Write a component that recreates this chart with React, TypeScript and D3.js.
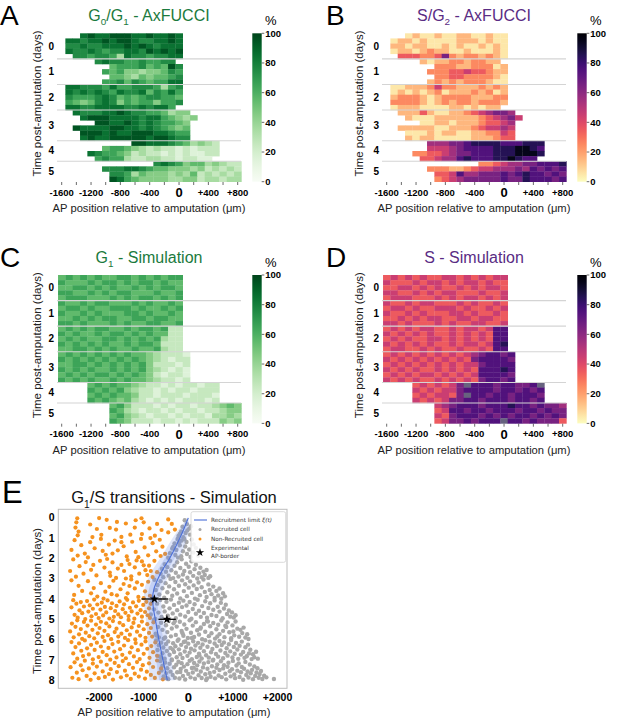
import React from 'react';
import * as d3 from 'd3';

// ---------- heatmaps (A-D) ----------
// one string per individual row: "startBin:values", bins of 100 µm (startBin in units of 100 µm)
// digit d -> d*10+5 %, 'g' -> undefined cell
const dayLabels = ['0', '1', '2', '3', '4', '5'];
const rowsPerDay = [5, 5, 5, 6, 4, 4];
const heatTickValues = [-1600, -1200, -800, -400, 0, 400, 800];
const heatTickLabels = ['-1600', '-1200', '-800', '-400', '0', '+400', '+800'];
const heatMinorTicks = [-1600, -1400, -1200, -1000, -800, -600, -400, -200, 0, 200, 400, 600, 800];
const cbarTicks = [0, 20, 40, 60, 80, 100];

const g1Fucci = [
  '-13:89889998898898', '-15:8878898998778898', '-15:7787788898987888', '-15:8778767788798989', '-14:776776387767788',
  '-11:78776676677', '-9:5666756597', '-10:65644344576', '-9:5543545567', '-10:66757656688',
  '-15:8877768667776367', '-15:8787876877857686', '-15:7666787565677665', '-15:6545787465664667', '-15:887788887787886',
  '-14:8777889877665344', '-13:8999888878865434', '-11:9988987876654', '-14:9888899887876545', '-13:999898899988766', '-13:898899999899877',
  '-6:998887653432', '-10:5665432322121222', '-12:876654232212121122', '-11:6766322332212211',
  '-3:787645534322', '-10:7778876554443423232', '-9:776354443435232323', '-9:986544443344233233',
];

const sg2Fucci = [
  '-13:01001001100100', '-15:0110100001110100', '-15:1101100101001010', '-15:0110121100100010', '-14:333223621221210',
  '-11:10112212211', '-9:2221122201', '-10:22233433211', '-9:2233222210', '-10:12121222100',
  '-15:0011124221112121', '-15:0101012011121201', '-15:1222101222211122', '-15:2222101212212221', '-15:011100001101011',
  '-14:1113100112345665', '-13:1000111111234564', '-11:0011011123345', '-14:1111100111234454', '-13:000101100112243', '-13:101100000111233',
  '-10:5556678888777888', '-10:4445677778889987', '-12:223345667778889998', '-11:3345578777889877',
  '-3:223455667778', '-10:2221123445556576767', '-9:334755666767877676', '-9:234566666766877767',
];

const g1Sim = [
  '-16:56565655665656566', '-16:65556566565665655', '-16:55665656556565665', '-16:66556565665556556', '-16:56665556565665656',
  '-16:65565665556565565', '-16:56656556665655656', '-16:65565655566565565', '-16:55656566556656655', '-16:66565556565566556',
  '-16:56565665565665622', '-16:65655656656565522', '-16:56565566565656322', '-16:65656565565665222', '-16:55665656556556322',
  '-16:565656565655432221', '-16:656565656565432122', '-16:556656565656422212', '-16:656565565656432121', '-16:565656656565421221', '-16:656565565655432212',
  '-12:565655432212122122', '-12:656564322121221222', '-12:565655422122212221', '-12:656545321212122212',
  '-9:564222121221223454', '-9:653212212122122344', '-9:564321221212213343', '-9:654222122121222434',
];

const sSim = [
  '-16:34343433443434344', '-16:43334344343443433', '-16:33443434334343443', '-16:44334343443334334', '-16:34443334343443434',
  '-16:43343443334343343', '-16:34434334443433434', '-16:43343433344343343', '-16:33434344334434433', '-16:44343334343344334',
  '-16:34343443343443477', '-16:43434343343434377', '-16:34343344343434377', '-16:43434343343443478', '-16:34433434334334377',
  '-16:343434343434567767', '-16:434343434343677776', '-16:343434343434467777', '-16:434343343434377787', '-16:343434434343477776', '-16:434343343434367767',
  '-12:3434346g777677667g', '-12:434344677776776767', '-12:3434436g7767767776', '-12:434346677677767767',
  '-9:456777677787767665', '-9:347767767776776766', '-9:436777676767767676', '-9:346676777g77676663',
];

// ---------- panel E ----------
const dayTicksE = [0, 1, 2, 3, 4, 5, 6, 7, 8];
const xTicksE = [-2000, -1000, 0, 1000, 2000];
const xTickLabelsE = ['-2000', '-1000', '0', '+1000', '+2000'];

// "x,y": x in units of 10 µm, y in hundredths of a day
const nonRecruited = `
-249,2 -251,22 -253,48 -246,68 -248,86 -200,1 -183,10 -162,58 -176,50 -140,28 -120,48 -105,2 -100,22 -87,52 -70,30 -45,8 -37,30 -30,58 -45,72 -220,33 -205,55 -195,84 -150,94 -130,83 -104,80 -75,88 -160,20 -118,12 -60,60 -215,95
-255,110 -240,135 -262,158 -232,176 -220,120 -210,150 -196,104 -185,182 -178,132 -165,112 -158,160 -145,140 -138,190 -126,118 -118,168 -106,104 -98,146 -90,185 -80,125 -72,165 -64,108 -58,142 -52,178 -225,195 -192,163 -150,120 -112,194 -85,100 -62,188 -248,186 -170,176
-258,205 -244,238 -265,262 -252,290 -230,218 -218,256 -206,284 -198,212 -188,245 -176,270 -170,220 -162,296 -150,232 -144,262 -136,208 -128,288 -120,244 -110,275 -104,215 -96,258 -88,236 -80,292 -76,212 -70,268 -213,232 -182,203 -158,250 -132,228 -116,210 -92,282 -235,275 -175,286 -140,299 -100,234 -84,262
-262,308 -256,380 -246,335 -238,360 -225,312 -218,372 -212,346 -204,388 -196,322 -190,398 -186,364 -177,340 -172,376 -168,310 -160,382 -152,352 -145,326 -140,395 -136,372 -132,336 -128,304 -120,348 -115,318 -112,390 -104,330 -100,396 -97,362 -90,315 -86,384
-262,441 -258,406 -255,478 -251,423 -248,492 -244,456 -241,415 -238,470 -234,437 -231,499 -227,410 -224,462 -221,431 -217,485 -214,448 -211,403 -207,474 -204,427 -201,494 -197,452 -194,418 -191,481 -187,439 -184,466 -181,407 -177,496 -174,445 -171,421 -167,488 -164,459 -161,434 -157,476 -154,412 -151,490 -147,450 -144,426 -141,468 -137,404 -134,484 -131,443 -127,461 -124,417 -121,497 -117,436 -114,472 -111,409 -107,455 -104,487 -101,429 -97,464 -94,414 -91,480 -88,446 -86,493 -84,424
-265,560 -261,521 -257,589 -253,537 -249,505 -245,574 -241,548 -238,596 -234,513 -230,566 -226,531 -222,583 -218,507 -215,552 -211,594 -207,526 -203,569 -199,543 -196,512 -192,587 -188,557 -184,520 -180,578 -177,535 -173,598 -169,509 -165,563 -161,546 -157,585 -154,517 -150,571 -146,529 -142,592 -138,554 -134,503 -131,576 -127,540 -123,518 -119,599 -115,561 -111,533 -108,580 -104,511 -100,549 -96,591 -92,524 -88,567 -84,543 -81,585 -78,515
-262,612 -258,668 -253,637 -249,694 -245,619 -240,655 -236,681 -232,604 -227,643 -223,673 -218,626 -214,697 -210,651 -205,615 -201,686 -196,634 -192,661 -188,607 -183,677 -179,641 -175,699 -170,622 -166,659 -161,688 -157,611 -153,647 -148,675 -144,629 -140,692 -135,603 -131,664 -127,638 -122,683 -118,617 -113,652 -109,696 -105,625 -100,670 -96,609 -92,645 -87,690 -83,632 -79,662 -74,614 -70,680
-264,736 -260,788 -255,712 -250,763 -246,795 -241,727 -237,751 -232,704 -228,779 -223,742 -219,798 -214,718 -210,766 -205,733 -201,790 -196,709 -192,757 -187,784 -183,724 -178,770 -174,746 -169,797 -165,715 -160,760 -156,731 -151,786 -147,706 -142,753 -138,777 -133,721 -129,794 -124,739 -120,768 -115,711 -111,782 -106,748 -102,726 -97,792 -93,758 -88,717 -84,774 -79,735 -75,789 -70,703 -66,764 -61,742 -57,796
`;

const recruited = `
-8,12 -3,31 -13,44 2,53 -16,67 -6,75 4,83 -22,89 -11,96 6,41 -19,79 -2,62
-24,104 -15,112 -4,119 8,107 -31,126 -19,135 -7,141 12,131 -36,151 -27,158 -12,165 2,156 17,148 -41,174 -29,183 -16,189 -3,178 11,171 22,187 -45,197 -23,196 -9,105 5,193 -34,143 -21,121
-62,276 -59,251 -56,293 -53,228 -50,266 -47,243 -44,285 -41,212 -38,258 -34,297 -31,236 -28,271 -25,219 -22,289 -18,247 -15,204 -12,279 -9,262 -5,226 -2,295 1,241 4,268 7,214 11,286 14,253 17,231 20,299 24,273 27,246 30,292 34,265 37,282 41,257 45,296 49,288
-80,392 -76,305 -73,356 -69,331 -65,378 -62,312 -58,347 -54,394 -51,322 -47,367 -43,338 -40,301 -36,384 -32,352 -29,316 -25,373 -21,335 -18,397 -14,308 -10,361 -7,327 -3,386 1,344 4,313 8,370 12,333 15,398 19,351 23,319 26,381 30,342 34,304 37,365 41,390 45,328 48,356 52,376 56,339 59,395 63,360 67,383 70,348 74,399 78,372 82,387
-84,476 -81,412 -77,451 -74,498 -70,423 -67,467 -63,405 -60,489 -56,437 -53,461 -49,414 -46,482 -42,446 -39,403 -35,471 -32,429 -28,494 -25,455 -21,418 -18,477 -14,440 -11,408 -7,486 -4,432 0,464 3,415 7,497 10,449 14,426 17,473 21,404 24,458 28,488 31,435 35,469 38,411 42,492 45,444 49,421 52,479 56,453 59,407 63,484 66,438 70,462 73,419 77,495 80,447 84,428 87,474 91,457 94,487 98,466 102,491 106,480
-77,503 -73,571 -68,538 -66,589 -61,517 -58,552 -55,596 -50,529 -47,563 -44,508 -39,584 -37,545 -33,520 -28,577 -26,536 -22,599 -19,512 -15,558 -11,581 -9,526 -4,547 -1,592 3,505 6,566 10,531 13,587 17,514 20,554 24,575 28,540 31,598 35,523 38,561 42,509 46,583 49,534 52,569 56,518 60,595 63,549 67,527 70,573 74,506 78,557 81,588 85,538 88,515 92,564 96,593 99,530 103,579 106,511 110,546 114,586 117,552 121,568 124,541 128,590 132,574 135,597 -71,580 -52,590 -30,509 -13,569 8,592 27,546 44,511 65,585 83,532 101,560
-72,604 -69,651 -66,628 -64,683 -61,615 -58,667 -56,639 -53,694 -50,622 -48,656 -45,609 -42,675 -40,641 -37,698 -34,618 -32,661 -29,633 -26,687 -24,606 -21,648 -18,672 -16,626 -13,691 -10,612 -8,659 -5,637 -2,680 0,620 3,664 6,645 8,697 11,608 14,653 16,629 19,686 22,616 24,669 27,640 30,693 32,624 35,657 38,603 40,677 43,635 46,689 48,611 51,662 54,646 56,699 59,619 62,671 64,632 67,684 70,607 72,654 75,627 78,692 80,614 83,666 86,643 88,679 91,623 94,658 96,602 99,688 102,636 104,670 107,617 110,649 112,695 115,630 118,674 120,610 123,661 126,690 128,638 131,682 134,625 136,668 139,650 142,696 145,672 148,687 152,660 156,694 -60,690 -35,648 -7,609 25,678
-63,706 -60,752 -58,729 -55,781 -52,713 -50,765 -47,741 -45,795 -42,719 -40,758 -37,702 -35,774 -32,736 -30,788 -27,724 -25,761 -22,709 -20,792 -17,745 -15,716 -12,779 -10,733 -7,797 -5,754 -2,721 0,769 3,704 5,786 8,740 10,762 13,715 15,793 18,748 20,727 23,776 25,708 28,757 30,789 33,737 35,718 38,771 40,799 43,744 45,711 48,764 50,783 53,731 55,703 58,759 60,791 63,739 65,722 68,777 70,750 73,707 75,785 78,742 80,726 83,768 85,796 88,734 90,714 93,756 95,781 98,746 100,705 103,772 105,790 108,728 110,753 113,717 115,784 118,761 120,735 123,798 125,744 128,710 130,774 133,757 135,787 138,723 140,766 143,749 145,795 148,732 150,779 153,762 155,741 158,788 160,770 163,755 166,794 170,778 175,786 192,794 -48,790 -18,760 12,738 42,792
`;

// recruitment limit xi(t) and its spread, µm
const tGrid = [0, 0.5, 1, 1.5, 2, 2.5, 3, 3.5, 4, 4.5, 5, 5.5, 6, 6.5, 7, 7.5, 8];
const xiLimit = [0, -90, -190, -300, -420, -560, -680, -770, -800, -780, -740, -700, -660, -615, -570, -520, -470];
const bandOuterLo = [0, -190, -350, -490, -630, -780, -900, -980, -1000, -980, -950, -930, -910, -900, -890, -880, -870];
const bandOuterHi = [0, 20, -30, -110, -210, -340, -470, -570, -610, -590, -550, -500, -460, -420, -380, -340, -300];
const bandInnerLo = [0, -140, -270, -400, -530, -670, -790, -880, -910, -890, -850, -810, -780, -750, -720, -690, -650];
const bandInnerHi = [0, -40, -110, -200, -310, -450, -570, -660, -700, -680, -640, -600, -560, -520, -480, -440, -400];

// experimental AP border (mean, error bar), µm
const borderDays = [4, 5];
const borderMean = [-760, -480];
const borderLo = [-1050, -670];
const borderHi = [-450, -280];

const FONT = "'Liberation Sans', Arial, sans-serif";
const GREEN = '#1b7a3d';
const PURPLE = '#5a2c84';

type Part = [string, boolean];

const Title = ({ x, y, parts, color, size }: { x: number; y: number; parts: Part[]; color: string; size: number }) => (
  <text x={x} y={y} textAnchor="middle" fill={color} fontSize={size} fontFamily={FONT}>
    {parts.map(([t, sub], i) => {
      const prevSub = i > 0 && parts[i - 1][1];
      const dy = sub ? size * 0.28 : prevSub ? -size * 0.28 : 0;
      return (
        <tspan key={i} dy={dy} fontSize={sub ? size * 0.62 : size}>
          {t}
        </tspan>
      );
    })}
  </text>
);

const magmaR = (t: number) => d3.interpolateMagma(1 - t);

const HeatPanel = ({ ox, oy, rows, interp, parts, color, letter, gid }: any) => {
  const x = d3.scaleLinear().domain([-1600, 800]).range([61.7 + ox, 237.7 + ox]);
  const nRows = d3.sum(rowsPerDay);
  const y = d3.scaleLinear().domain([0, nRows]).range([33.3 + oy, 181.7 + oy]);
  const cells = (rows as string[]).flatMap((r, ri) => {
    const [s, vals] = r.split(':');
    return vals.split('').map((ch, i) => ({ ri, c: (+s + i) * 100, v: ch === 'g' ? null : +ch * 10 + 5 }));
  });
  const ends = Array.from(d3.cumsum(rowsPerDay));
  const starts = [0, ...ends.slice(0, -1)];
  const cb = d3.scaleLinear().domain([0, 100]).range([181.7 + oy, 33.3 + oy]);
  const cbX = 252.3 + ox;
  const stops = d3.range(0, 1.0001, 0.05);

  return (
    <g>
      <text x={ox + (ox ? 1 : 0)} y={25 + oy} fontSize={28} fontFamily={FONT} fill="#000">{letter}</text>
      <Title x={149 + ox} y={21 + oy} parts={parts} color={color} size={16} />

      {cells.map((d, i) => (
        <rect
          key={i}
          x={x(d.c - 50)}
          y={y(d.ri)}
          width={x(d.c + 50) - x(d.c - 50) + 0.3}
          height={y(d.ri + 1) - y(d.ri) + 0.3}
          fill={d.v === null ? '#67637f' : interp(d.v / 100)}
        />
      ))}

      {ends.slice(0, -1).map((e, i) => (
        <line key={i} x1={57 + ox} x2={241 + ox} y1={y(e)} y2={y(e)} stroke="#d4d4d4" strokeWidth={1.1} />
      ))}

      {dayLabels.map((lab, i) => (
        <text key={lab} x={x(-1650) - 4} y={y((starts[i] + ends[i]) / 2)} dy="0.35em" textAnchor="end"
          fontSize={10} fontWeight="bold" fontFamily={FONT}>{lab}</text>
      ))}

      {heatMinorTicks.map((t) => (
        <line key={t} x1={x(t)} x2={x(t)} y1={182 + oy} y2={185 + oy} stroke="#444" strokeWidth={0.8} />
      ))}
      {heatTickValues.map((t, i) => (
        <text key={t} x={x(t)} y={(t === 0 ? 197 : 195.5) + oy} textAnchor="middle"
          fontSize={t === 0 ? 13 : 9.5} fontWeight="bold" fontFamily={FONT}>{heatTickLabels[i]}</text>
      ))}

      <text x={149 + ox} y={212 + oy} textAnchor="middle" fontSize={11.2} fontFamily={FONT} fill="#222">
        AP position relative to amputation (μm)
      </text>
      <text transform={`translate(${41 + ox * 0.99},${103.5 + oy}) rotate(-90)`} textAnchor="middle"
        fontSize={11.5} fontFamily={FONT} fill="#222">Time post-amputation (days)</text>

      <defs>
        <linearGradient id={gid} x1="0" y1="1" x2="0" y2="0">
          {stops.map((s) => (
            <stop key={s} offset={s} stopColor={interp(s)} />
          ))}
        </linearGradient>
      </defs>
      <rect x={cbX} y={cb(100)} width={9.4} height={cb(0) - cb(100)} fill={`url(#${gid})`} />
      {cbarTicks.map((t) => (
        <g key={t}>
          <line x1={cbX + 9.4} x2={cbX + 12} y1={cb(t)} y2={cb(t)} stroke="#444" strokeWidth={0.8} />
          <text x={cbX + 13} y={cb(t)} dy="0.35em" fontSize={9.5} fontWeight="bold" fontFamily={FONT}>{t}</text>
        </g>
      ))}
      <text x={265 + ox} y={25 + oy} fontSize={13} fontFamily={FONT}>%</text>
    </g>
  );
};

const parsePts = (s: string) =>
  s.trim().split(/\s+/).map((p) => {
    const [a, b] = p.split(',');
    return [+a * 10, +b / 100];
  });

const PanelE = () => {
  const x = d3.scaleLinear().domain([-2915, 2213]).range([58.3, 287]);
  const y = d3.scaleLinear().domain([-0.42, 8.4]).range([509.3, 688.3]);
  const orange = parsePts(nonRecruited);
  const grey = parsePts(recruited);
  const idx = tGrid.map((_, i) => i);
  const area = (lo: number[], hi: number[]) =>
    d3.area<number>().y((i) => y(tGrid[i])).x0((i) => x(lo[i])).x1((i) => x(hi[i])).curve(d3.curveMonotoneY)(idx) || '';
  const line = d3.line<number>().x((i) => x(xiLimit[i])).y((i) => y(tGrid[i])).curve(d3.curveMonotoneY)(idx) || '';
  const star = d3.symbol(d3.symbolStar, 26)() || '';
  const legStar = d3.symbol(d3.symbolStar, 22)() || '';
  const LF = "'DejaVu Sans', sans-serif";

  return (
    <g>
      <text x={2} y={503} fontSize={31} fontFamily={FONT}>E</text>
      <Title x={174} y={503} parts={[['G', false], ['1', true], ['/S transitions - Simulation', false]]} color="#111" size={16.5} />
      <rect x={58.3} y={509.3} width={228.7} height={179} fill="#fff" stroke="#bdbdbd" strokeWidth={1} />

      {grey.map(([px, py], i) => (
        <circle key={'g' + i} cx={x(px)} cy={y(py)} r={2.2} fill="#a8a8a8" />
      ))}
      {orange.map(([px, py], i) => (
        <circle key={'o' + i} cx={x(px)} cy={y(py)} r={2.1} fill="#f5921f" />
      ))}

      <path d={area(bandOuterLo, bandOuterHi)} fill="#6e8ee6" fillOpacity={0.22} />
      <path d={area(bandInnerLo, bandInnerHi)} fill="#6e8ee6" fillOpacity={0.25} />
      <path d={line} fill="none" stroke="#4a6ed8" strokeWidth={1.1} />

      {borderDays.map((d, i) => (
        <g key={d}>
          <line x1={x(borderLo[i])} x2={x(borderHi[i])} y1={y(d)} y2={y(d)} stroke="#000" strokeWidth={1.3} />
          <path d={star} transform={`translate(${x(borderMean[i])},${y(d)})`} fill="#000" />
        </g>
      ))}

      {dayTicksE.map((t) => (
        <text key={t} x={54.5} y={y(t)} dy="0.35em" textAnchor="end" fontSize={10.5} fontWeight="bold" fontFamily={FONT}>{t}</text>
      ))}
      {xTicksE.map((t, i) => (
        <text key={t} x={x(t)} y={t === 0 ? 702 : 700.5} textAnchor="middle" fontSize={t === 0 ? 13 : 10.5}
          fontWeight="bold" fontFamily={FONT}>{xTickLabelsE[i]}</text>
      ))}
      <text x={174} y={716} textAnchor="middle" fontSize={11.2} fontFamily={FONT} fill="#222">
        AP position relative to amputation (μm)
      </text>
      <text transform="translate(41,601) rotate(-90)" textAnchor="middle" fontSize={11.5} fontFamily={FONT} fill="#222">
        Time post-amputation (days)
      </text>

      <g>
        <rect x={191} y={511.7} width={94.7} height={50.6} rx={2} fill="#fff" fillOpacity={0.85} stroke="#d0d0d0" strokeWidth={0.8} />
        <line x1={194} x2={207} y1={520} y2={520} stroke="#4a6ed8" strokeWidth={1.1} />
        <text x={211} y={520} dy="0.35em" fontSize={5.7} fontFamily={LF} fill="#333">
          Recruitment limit <tspan fontStyle="italic">ξ(t)</tspan>
        </text>
        <circle cx={200} cy={529.5} r={1.5} fill="#a8a8a8" />
        <text x={211} y={529.5} dy="0.35em" fontSize={5.7} fontFamily={LF} fill="#333">Recruited cell</text>
        <circle cx={200} cy={539} r={1.5} fill="#f5921f" />
        <text x={211} y={539} dy="0.35em" fontSize={5.7} fontFamily={LF} fill="#333">Non-Recruited cell</text>
        <path d={legStar} transform="translate(200,552.5)" fill="#000" />
        <text x={211} y={548.5} dy="0.35em" fontSize={5.7} fontFamily={LF} fill="#333">Experimental</text>
        <text x={211} y={556.5} dy="0.35em" fontSize={5.7} fontFamily={LF} fill="#333">AP-border</text>
      </g>
    </g>
  );
};

export default function App() {
  return (
    <svg width={617} height={718} style={{ position: 'absolute', left: 0, top: 0, background: '#fff' }}>
      <HeatPanel ox={0} oy={0} rows={g1Fucci} interp={d3.interpolateGreens} gid="cbA" letter="A" color={GREEN}
        parts={[['G', false], ['0', true], ['/G', false], ['1', true], [' - AxFUCCI', false]]} />
      <HeatPanel ox={325} oy={0} rows={sg2Fucci} interp={magmaR} gid="cbB" letter="B" color={PURPLE}
        parts={[['S/G', false], ['2', true], [' - AxFUCCI', false]]} />
      <HeatPanel ox={0} oy={241.7} rows={g1Sim} interp={d3.interpolateGreens} gid="cbC" letter="C" color={GREEN}
        parts={[['G', false], ['1', true], [' - Simulation', false]]} />
      <HeatPanel ox={325} oy={241.7} rows={sSim} interp={magmaR} gid="cbD" letter="D" color={PURPLE}
        parts={[['S - Simulation', false]]} />
      <PanelE />
    </svg>
  );
}
